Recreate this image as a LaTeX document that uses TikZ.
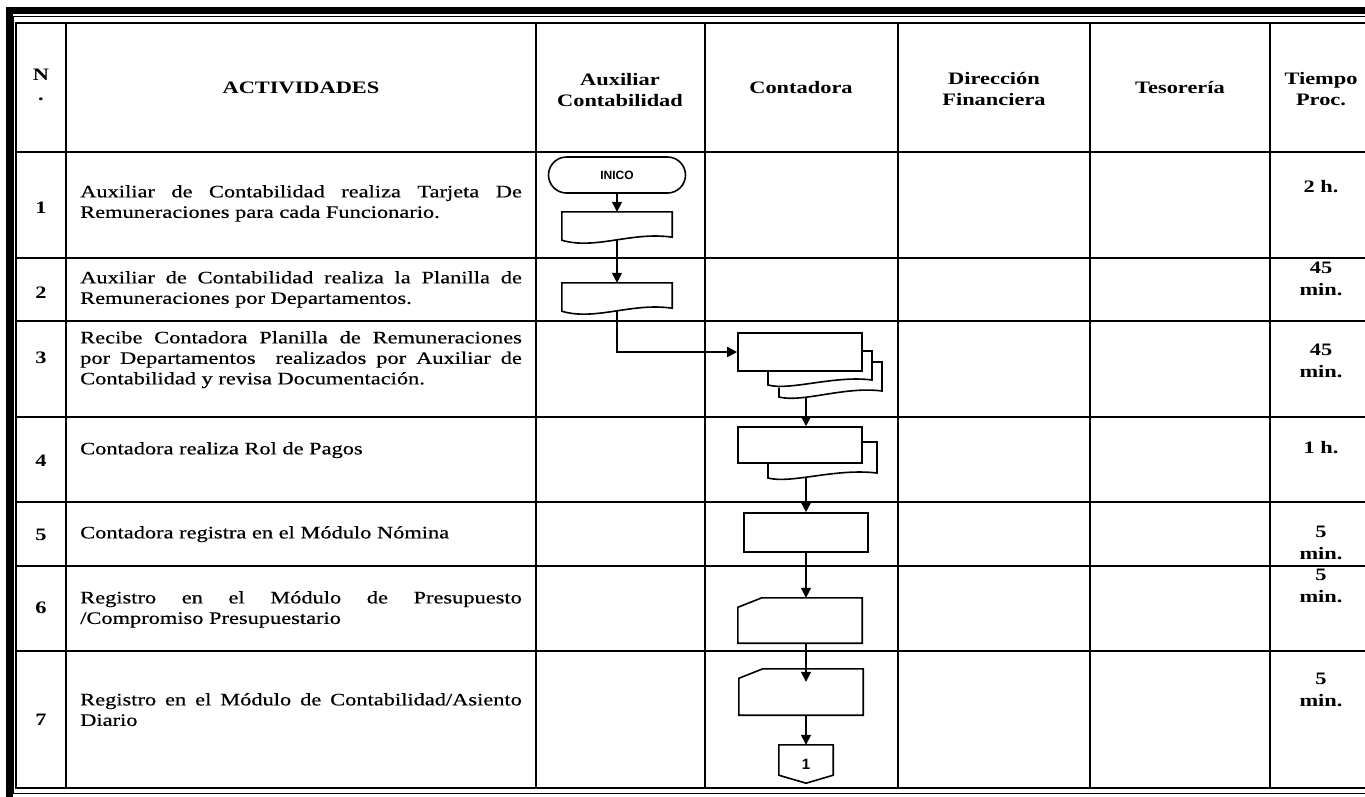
\documentclass[tikz,border=0pt]{standalone}
\usepackage{fontspec}
\setmainfont{Liberation Serif}
\setsansfont{Liberation Sans}
\newfontfamily\cuerpo{Liberation Serif}[FakeBold=0.5]
\usetikzlibrary{arrows.meta}
\usetikzlibrary{calc}
\usetikzlibrary{shapes.misc}
\tikzset{>={Triangle[width=10pt,length=10pt]}}
\hyphenpenalty=10000
\tolerance=9999
\newcommand{\txtfont}{\fontsize{17.5}{20.5}\selectfont}
\newcommand{\tpofont}{\fontsize{17.5}{22}\selectfont}
\tikzset{
  linea/.style={line width=2pt},
  shp/.style={line width=1.6pt},
  hdr/.style={font=\txtfont\bfseries, align=center, xscale=1.28},
  act/.style={font=\cuerpo\txtfont, text width=345pt, align=justify, anchor=north west, inner sep=0pt, xscale=1.28},
  tpo/.style={font=\tpofont\bfseries, align=center, xscale=1.28},
  caja/.style={shp, draw, minimum width=124pt, minimum height=38pt, inner sep=0pt},
  hoja/.style={minimum width=110pt, minimum height=28pt, inner sep=0pt},
  ficha/.style={minimum width=124pt, minimum height=45pt, inner sep=0pt}
}
\newcommand{\docline}[1]{\draw[shp] (#1.north west) -- (#1.north east) -- ([yshift=3pt]#1.south east) .. controls +(-40,-6) and +(33,10) .. (#1.south west) -- cycle;}
\newcommand{\fichaline}[1]{\draw[shp] ([yshift=-9.5pt]#1.north west) -- ([xshift=24pt]#1.north west) -- (#1.north east) -- (#1.south east) -- (#1.south west) -- cycle;}

\begin{document}
\begin{tikzpicture}[x=1pt, y=-1pt]

\useasboundingbox (0,0) rectangle (1365,796);
\clip (0,0) rectangle (1365,796);

\draw[line width=7pt] (9,800) -- (9,10.5) -- (1375,10.5);
\draw[line width=1pt] (1375,16.5) -- (13.5,16.5) -- (13.5,793.5) -- (1375,793.5);

\draw[linea] (16,23) rectangle (1373,788);
\draw[linea] (66,23) -- (66,788);
\draw[linea] (536,23) -- (536,788);
\draw[linea] (705,23) -- (705,788);
\draw[linea] (898,23) -- (898,788);
\draw[linea] (1090,23) -- (1090,788);
\draw[linea] (1270,23) -- (1270,788);
\draw[linea] (16,152) -- (1373,152);
\draw[linea] (16,258) -- (1373,258);
\draw[linea] (16,321) -- (1373,321);
\draw[linea] (16,417) -- (1373,417);
\draw[linea] (16,502) -- (1373,502);
\draw[linea] (16,566) -- (1373,566);
\draw[linea] (16,651) -- (1373,651);

\node[hdr] (nro) at (41,85) {N\\.};
\node[hdr] (actividades) at (301,88) {ACTIVIDADES};
\node[hdr] (auxiliar) at (620,90) {Auxiliar\\Contabilidad};
\node[hdr] (contadora) at (801,88) {Contadora};
\node[hdr] (direccion) at (994,89) {Dirección\\Financiera};
\node[hdr] (tesoreria) at (1180,88) {Tesorería};
\node[hdr] (tiempo) at (1321,89) {Tiempo\\Proc.};

\node[hdr] (n1) at (41,208) {1};
\node[hdr] (n2) at (41,293) {2};
\node[hdr] (n3) at (41,358) {3};
\node[hdr] (n4) at (41,461) {4};
\node[hdr] (n5) at (41,535) {5};
\node[hdr] (n6) at (41,608) {6};
\node[hdr] (n7) at (41,720) {7};

\node[act] (act1) at (80,185) {Auxiliar de Contabilidad realiza Tarjeta De Remuneraciones para cada Funcionario.};
\node[act] (act2) at (80,271) {Auxiliar de Contabilidad realiza la Planilla de Remuneraciones por Departamentos.};
\node[act] (act3) at (80,331) {Recibe Contadora Planilla de Remuneraciones por Departamentos\ \ realizados por Auxiliar de Contabilidad y revisa Documentación.};
\node[act] (act4) at (80,442) {Contadora realiza Rol de Pagos};
\node[act] (act5) at (80,526) {Contadora registra en el Módulo Nómina};
\node[act] (act6) at (80,591) {Registro en el Módulo de Presupuesto /Compromiso Presupuestario};
\node[act] (act7) at (80,693) {Registro en el Módulo de Contabilidad/Asiento Diario};

\node[tpo] (t1) at (1321,187) {2 h.};
\node[tpo] (t2) at (1321,279) {45\\min.};
\node[tpo] (t3) at (1321,361) {45\\min.};
\node[tpo] (t4) at (1321,448) {1 h.};
\node[tpo] (t5) at (1321,543) {5\\min.};
\node[tpo] (t6) at (1321,586) {5\\min.};
\node[tpo] (t7) at (1321,690) {5\\min.};

\node[shp, draw, rounded rectangle, minimum width=137pt, minimum height=36pt, inner sep=0pt, font=\sffamily\bfseries\fontsize{12}{12}\selectfont] (inicio) at (617,175) {INICO};
\node[hoja] (tarjeta) at (617,226) {};
\docline{tarjeta}
\node[hoja] (planilla) at (617,297) {};
\docline{planilla}

\draw[shp] (768,371) -- (768,385) .. controls (790,391) and (835,375) .. (872,380) -- (872,351) -- (862,351);
\draw[shp] (779,387.5) -- (779,397) .. controls (802,403) and (845,386) .. (882,391) -- (882,362) -- (872,362);
\node[caja] (recibe) at (800,352) {};
\coordinate (recibe-pie) at (806,397.5);

\draw[shp] (768,463) -- (768,478) .. controls (792,484) and (835,468) .. (877,473) -- (877,442) -- (862,442);
\node[caja, minimum height=36pt] (rol) at (800,445) {};
\coordinate (rol-pie) at (806,477.5);

\node[caja, minimum height=39pt] (nomina) at (806,532.5) {};
\node[ficha] (presup) at (800,620.5) {};
\fichaline{presup}
\node[ficha, minimum height=46pt] (asiento) at (801,692) {};
\fichaline{asiento}
\node[minimum width=54pt, minimum height=38pt, inner sep=0pt, font=\sffamily\bfseries\fontsize{15}{15}\selectfont] (conector) at (806,764) {1};
\draw[shp] (conector.north west) -- (conector.north east) -- ([yshift=8pt]conector.south east) -- (conector.south) -- ([yshift=8pt]conector.south west) -- cycle;

\draw[shp, ->] (inicio) -- (tarjeta);
\draw[shp, ->] (tarjeta.south) -- (planilla.north);
\draw[shp, ->] (planilla.south) |- (recibe.west);
\draw[shp, ->] (recibe-pie) -- (recibe-pie |- rol.north);
\draw[shp, ->] (rol-pie) -- (nomina.north);
\draw[shp, ->] (nomina.south) -- (nomina.south |- presup.north);
\draw[shp, ->, shorten >=-13pt] (nomina.south |- presup.south) -- (nomina.south |- asiento.north);
\draw[shp, ->] (nomina.south |- asiento.south) -- (conector.north);

\end{tikzpicture}
\end{document}
